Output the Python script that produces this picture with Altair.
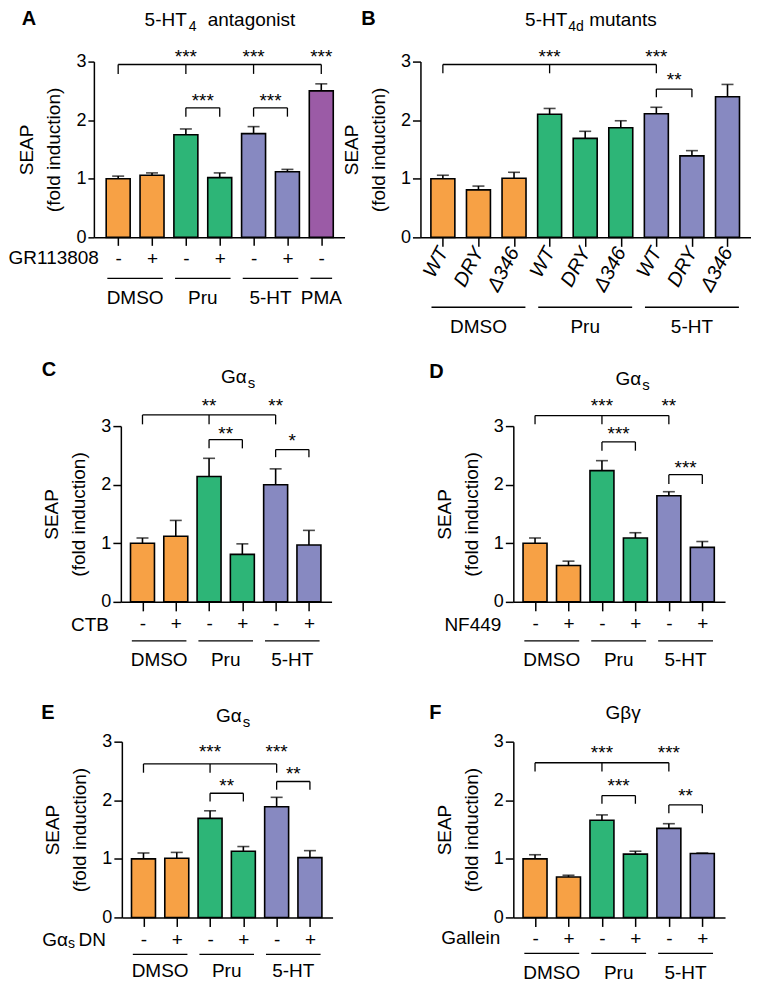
import json
import altair as alt
import pandas as pd

FONT = "Liberation Sans"
GROUP_DOMAIN = ["DMSO", "Pru", "5-HT", "PMA"]
GROUP_COLORS = ["#F7A145", "#2DB577", "#8789C1", "#9B5BA6"]

# ---------------- Panel A ----------------
A_pos = [0, 1, 2, 3, 4, 5, 6]
A_mean = [1.00, 1.06, 1.75, 1.02, 1.77, 1.12, 2.50]
A_err = [0.045, 0.04, 0.10, 0.08, 0.12, 0.04, 0.12]
A_group = ["DMSO", "DMSO", "Pru", "Pru", "5-HT", "5-HT", "PMA"]
A_ticks = ["-", "+", "-", "+", "-", "+", "-"]
A_gnames = ["DMSO", "Pru", "5-HT", "PMA"]
A_gfirst = [0, 2, 4, 6]
A_glast = [1, 3, 5, 6]
A_br_x1 = [0, 2, 4]
A_br_x2 = [6, 3, 5]
A_br_y = [2.95, 2.21, 2.21]
A_drop_x = [0, 2, 4, 6, 2, 3, 4, 5]
A_drop_top = [2.95, 2.95, 2.95, 2.95, 2.21, 2.21, 2.21, 2.21]
A_drop_bot = [2.79, 2.79, 2.79, 2.79, 2.06, 2.06, 2.06, 2.06]
A_star_x = [2, 4, 6, 2.5, 4.5]
A_star_y = [3.15, 3.15, 3.15, 2.40, 2.40]
A_star_t = ["***", "***", "***", "***", "***"]

# ---------------- Panel B ----------------
B_pos = [0, 1, 2, 3, 4, 5, 6, 7, 8]
B_mean = [1.00, 0.81, 1.01, 2.10, 1.69, 1.87, 2.11, 1.39, 2.40]
B_err = [0.06, 0.065, 0.10, 0.10, 0.12, 0.12, 0.11, 0.09, 0.21]
B_group = ["DMSO", "DMSO", "DMSO", "Pru", "Pru", "Pru", "5-HT", "5-HT", "5-HT"]
B_ticks = ["WT", "DRY", "Δ346", "WT", "DRY", "Δ346", "WT", "DRY", "Δ346"]
B_gnames = ["DMSO", "Pru", "5-HT"]
B_gfirst = [0, 3, 6]
B_glast = [2, 5, 8]
B_br_x1 = [0, 6]
B_br_x2 = [6, 7]
B_br_y = [2.95, 2.53]
B_drop_x = [0, 3, 6, 6, 7]
B_drop_top = [2.95, 2.95, 2.95, 2.53, 2.53]
B_drop_bot = [2.80, 2.80, 2.80, 2.39, 2.39]
B_star_x = [3, 6, 6.5]
B_star_y = [3.14, 3.14, 2.76]
B_star_t = ["***", "***", "**"]

# ---------------- Panel C ----------------
C_pos = [0, 1, 2, 3, 4, 5]
C_mean = [1.00, 1.12, 2.14, 0.81, 2.00, 0.97]
C_err = [0.09, 0.27, 0.31, 0.18, 0.27, 0.25]
C_group = ["DMSO", "DMSO", "Pru", "Pru", "5-HT", "5-HT"]
C_ticks = ["-", "+", "-", "+", "-", "+"]
C_gnames = ["DMSO", "Pru", "5-HT"]
C_gfirst = [0, 2, 4]
C_glast = [1, 3, 5]
C_br_x1 = [0, 2, 4]
C_br_x2 = [4, 3, 5]
C_br_y = [3.19, 2.77, 2.60]
C_drop_x = [0, 2, 4, 2, 3, 4, 5]
C_drop_top = [3.19, 3.19, 3.19, 2.77, 2.77, 2.60, 2.60]
C_drop_bot = [3.03, 3.03, 3.03, 2.62, 2.62, 2.47, 2.47]
C_star_x = [2, 4, 2.5, 4.5]
C_star_y = [3.41, 3.41, 2.94, 2.82]
C_star_t = ["**", "**", "**", "*"]

# ---------------- Panel D ----------------
D_pos = [0, 1, 2, 3, 4, 5]
D_mean = [1.00, 0.62, 2.24, 1.09, 1.81, 0.93]
D_err = [0.09, 0.075, 0.17, 0.09, 0.07, 0.10]
D_group = ["DMSO", "DMSO", "Pru", "Pru", "5-HT", "5-HT"]
D_ticks = ["-", "+", "-", "+", "-", "+"]
D_gnames = ["DMSO", "Pru", "5-HT"]
D_gfirst = [0, 2, 4]
D_glast = [1, 3, 5]
D_br_x1 = [0, 2, 4]
D_br_x2 = [4, 3, 5]
D_br_y = [3.18, 2.73, 2.17]
D_drop_x = [0, 2, 4, 2, 3, 4, 5]
D_drop_top = [3.18, 3.18, 3.18, 2.73, 2.73, 2.17, 2.17]
D_drop_bot = [3.03, 3.03, 3.03, 2.58, 2.58, 2.01, 2.01]
D_star_x = [2, 4, 2.5, 4.5]
D_star_y = [3.41, 3.41, 2.93, 2.35]
D_star_t = ["***", "**", "***", "***"]

# ---------------- Panel E ----------------
E_pos = [0, 1, 2, 3, 4, 5]
E_mean = [1.00, 1.01, 1.69, 1.13, 1.89, 1.02]
E_err = [0.10, 0.10, 0.13, 0.08, 0.16, 0.12]
E_group = ["DMSO", "DMSO", "Pru", "Pru", "5-HT", "5-HT"]
E_ticks = ["-", "+", "-", "+", "-", "+"]
E_gnames = ["DMSO", "Pru", "5-HT"]
E_gfirst = [0, 2, 4]
E_glast = [1, 3, 5]
E_br_x1 = [0, 2, 4]
E_br_x2 = [4, 3, 5]
E_br_y = [2.62, 2.12, 2.32]
E_drop_x = [0, 2, 4, 2, 3, 4, 5]
E_drop_top = [2.62, 2.62, 2.62, 2.12, 2.12, 2.32, 2.32]
E_drop_bot = [2.47, 2.47, 2.47, 1.98, 1.98, 2.18, 2.18]
E_star_x = [2, 4, 2.5, 4.5]
E_star_y = [2.90, 2.90, 2.31, 2.52]
E_star_t = ["***", "***", "**", "**"]

# ---------------- Panel F ----------------
F_pos = [0, 1, 2, 3, 4, 5]
F_mean = [1.00, 0.69, 1.66, 1.08, 1.52, 1.09]
F_err = [0.07, 0.03, 0.09, 0.05, 0.08, 0.01]
F_group = ["DMSO", "DMSO", "Pru", "Pru", "5-HT", "5-HT"]
F_ticks = ["-", "+", "-", "+", "-", "+"]
F_gnames = ["DMSO", "Pru", "5-HT"]
F_gfirst = [0, 2, 4]
F_glast = [1, 3, 5]
F_br_x1 = [0, 2, 4]
F_br_x2 = [4, 3, 5]
F_br_y = [2.64, 2.08, 1.92]
F_drop_x = [0, 2, 4, 2, 3, 4, 5]
F_drop_top = [2.64, 2.64, 2.64, 2.08, 2.08, 1.92, 1.92]
F_drop_bot = [2.49, 2.49, 2.49, 1.94, 1.94, 1.78, 1.78]
F_star_x = [2, 4, 2.5, 4.5]
F_star_y = [2.88, 2.88, 2.31, 2.14]
F_star_t = ["***", "***", "***", "**"]

H = 176
UNDER_EXT = 0.32
cscale = alt.Scale(domain=GROUP_DOMAIN, range=GROUP_COLORS)


def text_layer(t, x, y, size=19, weight="normal", style="normal", align="center", baseline="alphabetic"):
    return alt.Chart(pd.DataFrame({"t": [t]})).mark_text(
        font=FONT, fontSize=size, fontWeight=weight, fontStyle=style,
        align=align, baseline=baseline, color="black"
    ).encode(text="t:N", x=alt.value(x), y=alt.value(y))


def make_panel(pos, mean, err, group, ticks, gnames, gfirst, glast,
               br_x1, br_x2, br_y, drop_x, drop_top, drop_bot,
               star_x, star_y, star_t, dom, width, texts,
               ytick=7, xtick=8, lab_pad=13, under_dy=39, glabel_dy=58,
               rotated=False, ytitle_pad=12):
    xaxis_kw = dict(
        values=pos, title=None, grid=False, tickSize=xtick,
        labelExpr=json.dumps(ticks) + "[datum.value]",
        labelFont=FONT, labelFontSize=19, labelColor="black",
        labelOverlap=False, labelFlush=False, labelBound=False,
        domainColor="black", domainWidth=1.5, tickColor="black", tickWidth=1.5,
    )
    if rotated:
        xaxis_kw.update(labelAngle=298, labelAlign="right", labelBaseline="middle",
                        labelFontStyle="italic", labelPadding=2, labelFontSize=20)
    else:
        xaxis_kw.update(labelAngle=0, labelAlign="center", labelBaseline="middle",
                        labelPadding=lab_pad)
    xaxis = alt.Axis(**xaxis_kw)
    yaxis = alt.Axis(
        values=[0, 1, 2, 3], format="d", grid=False, tickSize=ytick,
        title=["SEAP", "(fold induction)"], titleFont=FONT, titleFontSize=19,
        titleFontWeight="normal", titleColor="black", titleLineHeight=27,
        titlePadding=ytitle_pad,
        labelFont=FONT, labelFontSize=18, labelColor="black", labelPadding=2,
        domainColor="black", domainWidth=1.5, tickColor="black", tickWidth=1.5,
    )
    xs = alt.Scale(domain=dom, nice=False, zero=False)
    ysc = alt.Scale(domain=[0, 3], nice=False, zero=False)

    def X(f):
        return alt.X(f, type="quantitative", scale=xs, axis=xaxis)

    def Y(f):
        return alt.Y(f, type="quantitative", scale=ysc, axis=yaxis)

    df = pd.DataFrame({"pos": pos, "mean": mean, "err": err, "group": group})
    df["top"] = df["mean"] + df["err"]

    bars = alt.Chart(df).mark_bar(size=24, stroke="black", strokeWidth=1.6).encode(
        x=X("pos"), y=Y("mean"),
        color=alt.Color("group:N", scale=cscale, legend=None))
    ebar = alt.Chart(df).mark_rule(color="black", strokeWidth=1.6).encode(
        x=X("pos"), y=Y("mean"), y2="top:Q")
    ecap = alt.Chart(df).mark_tick(orient="horizontal", size=12, thickness=1.6,
                                   color="black").encode(x=X("pos"), y=Y("top"))

    brdf = pd.DataFrame({"x1": br_x1, "x2": br_x2, "y": br_y})
    br = alt.Chart(brdf).mark_rule(color="black", strokeWidth=1.3).encode(
        x=X("x1"), x2="x2:Q", y=Y("y"))
    dropdf = pd.DataFrame({"x": drop_x, "top": drop_top, "bot": drop_bot})
    drops = alt.Chart(dropdf).mark_rule(color="black", strokeWidth=1.3).encode(
        x=X("x"), y=Y("top"), y2="bot:Q")
    stardf = pd.DataFrame({"x": star_x, "y": star_y, "t": star_t})
    stars = alt.Chart(stardf).mark_text(font=FONT, fontSize=19, baseline="alphabetic",
                                        dy=10, color="black").encode(
        x=X("x"), y=Y("y"), text="t:N")

    gdf = pd.DataFrame({"name": gnames, "first": gfirst, "last": glast})
    gdf["u1"] = gdf["first"] - UNDER_EXT
    gdf["u2"] = gdf["last"] + UNDER_EXT
    gdf["c"] = (gdf["first"] + gdf["last"]) / 2
    under = alt.Chart(gdf).mark_rule(color="black", strokeWidth=1.3).encode(
        x=X("u1"), x2="u2:Q", y=alt.value(H + under_dy))
    glab = alt.Chart(gdf).mark_text(font=FONT, fontSize=19, baseline="middle",
                                    color="black").encode(
        x=X("c"), y=alt.value(H + glabel_dy), text="name:N")

    layers = [bars, ebar, ecap, br, drops, stars, under, glab]
    layers += [text_layer(**t) for t in texts]
    return alt.layer(*layers).properties(width=width, height=H)


A = make_panel(A_pos, A_mean, A_err, A_group, A_ticks, A_gnames, A_gfirst, A_glast,
               A_br_x1, A_br_x2, A_br_y, A_drop_x, A_drop_top, A_drop_bot,
               A_star_x, A_star_y, A_star_t, [-0.57, 6.54], 251,
               [dict(t="A", x=-65, y=-43, size=20, weight="bold", baseline="middle"),
                dict(t="5-HT", x=93, y=-36, size=19, align="right"),
                dict(t="4", x=95, y=-31, size=14, align="left"),
                dict(t="antagonist", x=114, y=-36, size=19, align="left"),
                dict(t="GR113808", x=5, y=H + 21, align="right", baseline="middle")],
               ytick=6, xtick=8, lab_pad=13, under_dy=41, glabel_dy=61)

B = make_panel(B_pos, B_mean, B_err, B_group, B_ticks, B_gnames, B_gfirst, B_glast,
               B_br_x1, B_br_x2, B_br_y, B_drop_x, B_drop_top, B_drop_bot,
               B_star_x, B_star_y, B_star_t, [-0.49, 8.52], 331,
               [dict(t="B", x=-52, y=-43, size=20, weight="bold", baseline="middle"),
                dict(t="5-HT", x=147, y=-36, size=19, align="right"),
                dict(t="4d", x=148, y=-31, size=14, align="left"),
                dict(t="mutants", x=169, y=-36, size=19, align="left")],
               ytick=8, xtick=9, under_dy=70, glabel_dy=90, rotated=True)

C = make_panel(C_pos, C_mean, C_err, C_group, C_ticks, C_gnames, C_gfirst, C_glast,
               C_br_x1, C_br_x2, C_br_y, C_drop_x, C_drop_top, C_drop_bot,
               C_star_x, C_star_y, C_star_t, [-0.5, 5.53], 211,
               [dict(t="C", x=-72, y=-56, size=20, weight="bold", baseline="middle"),
                dict(t="Gα", x=126, y=-43, size=19, align="right"),
                dict(t="s", x=127, y=-38, size=15, align="left"),
                dict(t="CTB", x=-12, y=H + 23, align="right", baseline="middle")],
               ytick=8, xtick=9, lab_pad=13, under_dy=39, glabel_dy=58)

D = make_panel(D_pos, D_mean, D_err, D_group, D_ticks, D_gnames, D_gfirst, D_glast,
               D_br_x1, D_br_x2, D_br_y, D_drop_x, D_drop_top, D_drop_bot,
               D_star_x, D_star_y, D_star_t, [-0.5, 5.53], 212,
               [dict(t="D", x=-77, y=-54, size=20, weight="bold", baseline="middle"),
                dict(t="Gα", x=128, y=-41, size=19, align="right"),
                dict(t="s", x=129, y=-36, size=15, align="left"),
                dict(t="NF449", x=-12, y=H + 23, align="right", baseline="middle")],
               ytick=8, xtick=9, lab_pad=13, under_dy=39, glabel_dy=58)

E = make_panel(E_pos, E_mean, E_err, E_group, E_ticks, E_gnames, E_gfirst, E_glast,
               E_br_x1, E_br_x2, E_br_y, E_drop_x, E_drop_top, E_drop_bot,
               E_star_x, E_star_y, E_star_t, [-0.5, 5.53], 211,
               [dict(t="E", x=-74, y=-29, size=20, weight="bold", baseline="middle"),
                dict(t="Gα", x=120, y=-20, size=19, align="right"),
                dict(t="s", x=121, y=-15, size=15, align="left"),
                dict(t="DN", x=-16, y=H + 23, align="right", baseline="middle"),
                dict(t="s", x=-47, y=H + 31, size=14, align="right"),
                dict(t="Gα", x=-54, y=H + 23, align="right", baseline="middle")],
               ytick=8, xtick=9, lab_pad=13, under_dy=37, glabel_dy=54)

F = make_panel(F_pos, F_mean, F_err, F_group, F_ticks, F_gnames, F_gfirst, F_glast,
               F_br_x1, F_br_x2, F_br_y, F_drop_x, F_drop_top, F_drop_bot,
               F_star_x, F_star_y, F_star_t, [-0.5, 5.53], 212,
               [dict(t="F", x=-78, y=-29, size=20, weight="bold", baseline="middle"),
                dict(t="Gβγ", x=110, y=-23, size=19, align="center"),
                dict(t="Gallein", x=-13, y=H + 21, align="right", baseline="middle")],
               ytick=8, xtick=9, lab_pad=12, under_dy=36, glabel_dy=56)


def spacer(w):
    return alt.Chart(pd.DataFrame({"v": [0]})).mark_text(text="").encode(
        x=alt.value(0), y=alt.value(0)).properties(width=w, height=10)


# with flush bounds a nested concat counts as zero-size, so the
# spacing values below are the distances between the plot tops
row1 = alt.hconcat(A, B, spacing=76, bounds="flush")
row2 = alt.hconcat(spacer(27), alt.hconcat(C, D, spacing=182, bounds="flush"),
                   spacing=0, bounds="flush")
row3 = alt.hconcat(spacer(28), alt.hconcat(E, F, spacing=181, bounds="flush"),
                   spacing=0, bounds="flush")
lower = alt.vconcat(row2, row3, spacing=316, bounds="flush")
chart = alt.vconcat(row1, lower, spacing=365, bounds="flush").properties(
    padding={"left": 0, "top": 0, "right": 0, "bottom": 0},
    background="white",
).configure_view(stroke=None)

chart.save("out.html", embed_options={"renderer": "svg", "actions": False})
